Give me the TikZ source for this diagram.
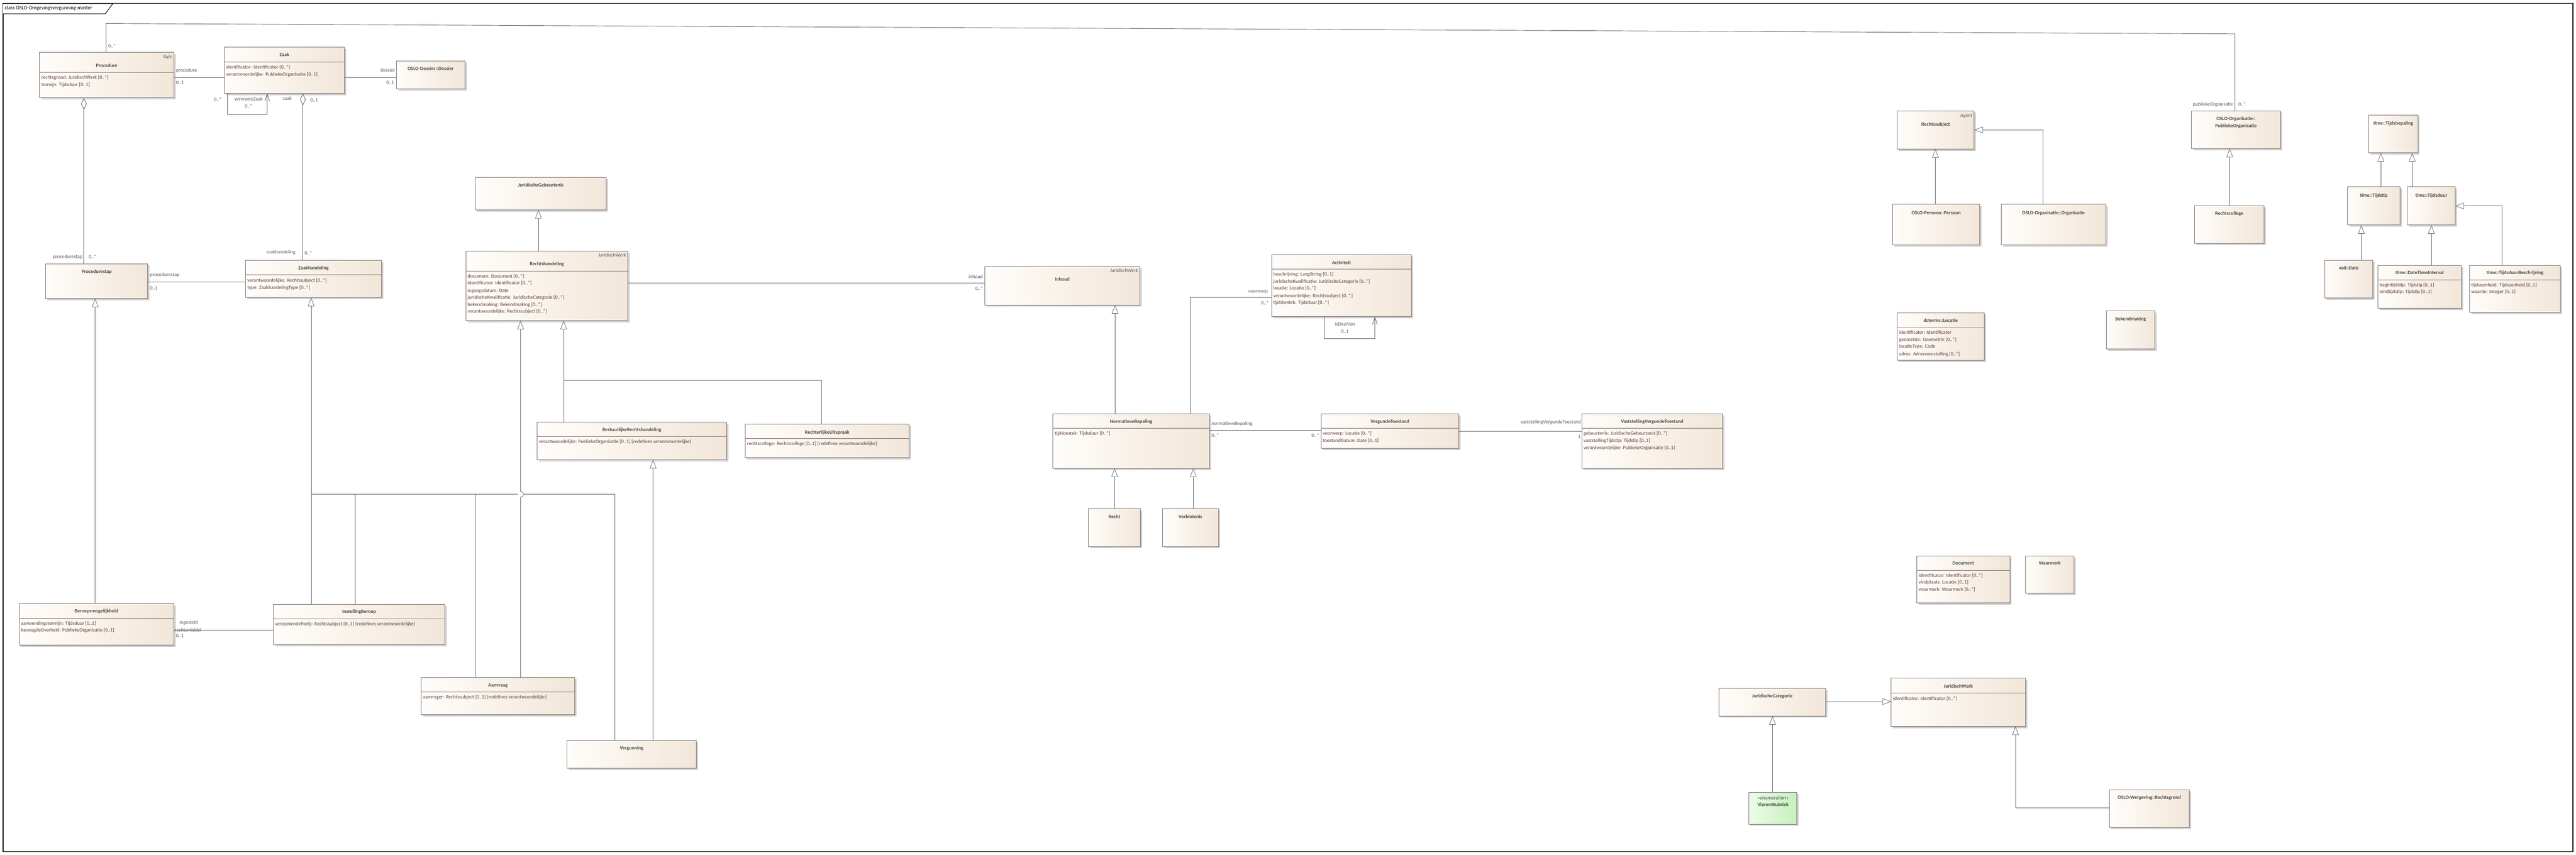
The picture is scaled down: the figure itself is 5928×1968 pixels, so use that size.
\documentclass[tikz,border=0pt]{standalone}
\usepackage{fontspec}
\setmainfont{Carlito}
\usetikzlibrary{arrows.meta,calc}
\definecolor{boxl}{RGB}{255,253,250}
\definecolor{boxr}{RGB}{242,230,217}
\definecolor{boxborder}{RGB}{125,115,115}
\definecolor{shadowc}{RGB}{208,206,206}
\definecolor{namec}{RGB}{72,72,72}
\definecolor{attrc}{RGB}{92,58,58}
\definecolor{lblc}{RGB}{88,88,88}
\definecolor{linec}{RGB}{95,100,115}
\definecolor{enuml}{RGB}{236,252,232}
\definecolor{enumr}{RGB}{198,240,188}
\newcommand\fname{\fontsize{11.5}{13}\selectfont\bfseries}
\newcommand\fattr{\fontsize{11.5}{13}\selectfont}
\newcommand\flbl{\fontsize{11.5}{13}\selectfont}
\tikzset{
  clsbox/.style={draw=boxborder,line width=1.1pt,left color=boxl,right color=boxr,inner sep=0pt,outer sep=0pt},
  enumbox/.style={left color=enuml,right color=enumr},
  clsname/.style={font=\fname,text=namec,inner sep=0pt,anchor=mid},
  ster/.style={font={\fattr\itshape},text=lblc,inner sep=0pt,anchor=mid east},
  attr/.style={font=\fattr,text=attrc,inner sep=0pt,anchor=mid west},
  lbl/.style={font=\flbl,text=lblc,inner sep=0pt},
  assoc/.style={draw=linec,line width=1.1pt},
  genline/.style={draw=linec,line width=0.9pt},
  gen/.style={genline,-{Triangle[length=20pt,width=15pt,fill=white]}},
  nav/.style={assoc,-{Straight Barb[length=16pt,width=11pt]}},
  agg/.style={assoc,{Diamond[length=28pt,width=13pt,fill=white]}-},
}
% class box: [style] name x1 y1 x2 y2
\newcommand\umlcls[6][]{%
  \fill[shadowc] ({#3+4},{#4+4}) rectangle ({#5+4},{#6+4});
  \node[clsbox,#1,minimum width={(#5-#3)*1pt},minimum height={(#6-#4)*1pt}] (#2) at ({(#3+#5)/2},{(#4+#6)/2}) {};}
\newcommand\ctitle[3]{\node[clsname] (#1-title) at (#1.north |- 0,#2) {#3};}
\newcommand\ctitleb[3]{\node[clsname] (#1-titleb) at (#1.north |- 0,#2) {#3};}
\newcommand\cdiv[2]{\draw[boxborder,line width=1.1pt] (#1.west |- 0,#2) -- (#1.east |- 0,#2);}
\newcommand\cattr[4]{\node[attr] (#1-a#2) at ($(#1.west |- 0,#3)+(4,0)$) {#4};}
\newcommand\cster[3]{\node[ster] (#1-st) at ($(#1.east |- 0,#2)+(-4,0)$) {#3};}
\begin{document}
\begin{tikzpicture}[x=1pt,y=-1pt]
\useasboundingbox (0,0) rectangle (5928,1968);
\fill[white] (0,0) rectangle (5928,1968);
% frame
\draw[black,line width=1.6pt] (7,8) rectangle (5921,1960);
\draw[black,line width=1.2pt,fill=white] (7,8) -- (260,8) -- (242,32) -- (7,32);
\node[font=\fontsize{12}{14}\selectfont,inner sep=0pt,anchor=mid west] (frametitle) at (11,20) {class OSLO-Omgevingsvergunning-master};

% ---------- classes ----------
\umlcls{Procedure}{91}{120}{400}{225}
\cster{Procedure}{132}{Rule}
\ctitle{Procedure}{152}{Procedure}
\cdiv{Procedure}{166}
\cattr{Procedure}{1}{180}{rechtsgrond: JuridischWerk [0..*]}
\cattr{Procedure}{2}{196}{termijn: Tijdsduur [0..1]}

\umlcls{Zaak}{516}{109}{793}{215}
\ctitle{Zaak}{128}{Zaak}
\cdiv{Zaak}{143}
\cattr{Zaak}{1}{156}{identificator: Identificator [0..*]}
\cattr{Zaak}{2}{172}{verantwoordelijke: PubliekeOrganisatie [0..1]}

\umlcls{Dossier}{912}{140}{1070}{205}
\ctitle{Dossier}{159}{OSLO-Dossier::Dossier}

\umlcls{JurGeb}{1094}{408}{1395}{483}
\node[clsname,font={\fname\itshape}] (JurGeb-title) at (JurGeb.north |- 0,427) {JuridischeGebeurtenis};

\umlcls{Rechtshandeling}{1072}{578}{1445}{738}
\cster{Rechtshandeling}{589}{JuridischWerk}
\ctitle{Rechtshandeling}{609}{Rechtshandeling}
\cdiv{Rechtshandeling}{624}
\cattr{Rechtshandeling}{1}{637}{document: Document [0..*]}
\cattr{Rechtshandeling}{2}{653}{identificator: Identificator [0..*]}
\cattr{Rechtshandeling}{3}{670}{ingangsdatum: Date}
\cattr{Rechtshandeling}{4}{686}{juridischeKwalificatie: JuridischeCategorie [0..*]}
\cattr{Rechtshandeling}{5}{702}{bekendmaking: Bekendmaking [0..*]}
\cattr{Rechtshandeling}{6}{718}{verantwoordelijke: Rechtssubject [0..*]}

\umlcls{Procedurestap}{105}{607}{340}{687}
\ctitle{Procedurestap}{627}{Procedurestap}

\umlcls{Zaakhandeling}{565}{599}{878}{685}
\ctitle{Zaakhandeling}{618}{Zaakhandeling}
\cdiv{Zaakhandeling}{633}
\cattr{Zaakhandeling}{1}{647}{verantwoordelijke: Rechtssubject [0..*]}
\cattr{Zaakhandeling}{2}{663}{type: ZaakhandelingType [0..*]}

\umlcls{Inhoud}{2266}{613}{2623}{702}
\cster{Inhoud}{624}{JuridischWerk}
\ctitle{Inhoud}{644}{Inhoud}

\umlcls{Activiteit}{2926}{586}{3248}{729}
\ctitle{Activiteit}{606}{Activiteit}
\cdiv{Activiteit}{620}
\cattr{Activiteit}{1}{633}{beschrijving: LangString [0..1]}
\cattr{Activiteit}{2}{649}{juridischeKwalificatie: JuridischeCategorie [0..*]}
\cattr{Activiteit}{3}{665}{locatie: Locatie [0..*]}
\cattr{Activiteit}{4}{682}{verantwoordelijke: Rechtssubject [0..*]}
\cattr{Activiteit}{5}{698}{tijdsbestek: Tijdsduur [0..*]}

\umlcls{NormBep}{2423}{953}{2783}{1078}
\ctitle{NormBep}{972}{NormatieveBepaling}
\cdiv{NormBep}{986}
\cattr{NormBep}{1}{999}{tijdsbestek: Tijdsduur [0..*]}

\umlcls{VergTst}{3040}{953}{3357}{1032}
\ctitle{VergTst}{972}{VergundeToestand}
\cdiv{VergTst}{986}
\cattr{VergTst}{1}{999}{voorwerp: Locatie [0..*]}
\cattr{VergTst}{2}{1016}{toestandDatum: Date [0..1]}

\umlcls{VaststVT}{3640}{953}{3964}{1078}
\ctitle{VaststVT}{972}{VaststellingVergundeToestand}
\cdiv{VaststVT}{986}
\cattr{VaststVT}{1}{999}{gebeurtenis: JuridischeGebeurtenis [0..*]}
\cattr{VaststVT}{2}{1016}{vaststellingTijdstip: Tijdstip [0..1]}
\cattr{VaststVT}{3}{1032}{verantwoordelijke: PubliekeOrganisatie [0..1]}

\umlcls{BRH}{1236}{972}{1672}{1058}
\ctitle{BRH}{991}{BestuurlijkeRechtshandeling}
\cdiv{BRH}{1005}
\cattr{BRH}{1}{1018}{verantwoordelijke: PubliekeOrganisatie [0..1] \{redefines verantwoordelijke\}}

\umlcls{RU}{1715}{976}{2092}{1053}
\ctitle{RU}{996}{RechterlijkeUitspraak}
\cdiv{RU}{1010}
\cattr{RU}{1}{1023}{rechtscollege: Rechtscollege [0..1] \{redefines verantwoordelijke\}}

\umlcls{Beroep}{44}{1389}{400}{1485}
\ctitle{Beroep}{1408}{Beroepsmogelijkheid}
\cdiv{Beroep}{1423}
\cattr{Beroep}{1}{1436}{aanwendingstermijn: Tijdsduur [0..1]}
\cattr{Beroep}{2}{1452}{bevoegdeOverheid: PubliekeOrganisatie [0..1]}

\umlcls{InstBeroep}{629}{1391}{1024}{1484}
\ctitle{InstBeroep}{1409}{InstellingBeroep}
\cdiv{InstBeroep}{1424}
\cattr{InstBeroep}{1}{1438}{verzoekendePartij: Rechtssubject [0..1] \{redefines verantwoordelijke\}}

\umlcls{Aanvraag}{969}{1559}{1323}{1645}
\ctitle{Aanvraag}{1578}{Aanvraag}
\cdiv{Aanvraag}{1593}
\cattr{Aanvraag}{1}{1606}{aanvrager: Rechtssubject [0..1] \{redefines verantwoordelijke\}}

\umlcls{Vergunning}{1305}{1704}{1602}{1768}
\ctitle{Vergunning}{1723}{Vergunning}

\umlcls{Recht}{2505}{1171}{2624}{1258}
\ctitle{Recht}{1191}{Recht}
\umlcls{Verbintenis}{2675}{1171}{2804}{1258}
\ctitle{Verbintenis}{1191}{Verbintenis}

\umlcls{Rechtssubject}{4366}{255}{4543}{343}
\cster{Rechtssubject}{267}{Agent}
\ctitle{Rechtssubject}{287}{Rechtssubject}
\umlcls{Persoon}{4355}{470}{4556}{564}
\ctitle{Persoon}{491}{OSLO-Persoon::Persoon}
\umlcls{Organisatie}{4605}{470}{4846}{564}
\ctitle{Organisatie}{491}{OSLO-Organisatie::Organisatie}
\umlcls{PO}{5043}{255}{5248}{342}
\ctitle{PO}{275}{OSLO-Organisatie::}
\ctitleb{PO}{291}{PubliekeOrganisatie}
\umlcls{Rechtscollege}{5050}{474}{5210}{560}
\ctitle{Rechtscollege}{493}{Rechtscollege}

\umlcls{Tijdsbepaling}{5451}{265}{5564}{352}
\ctitle{Tijdsbepaling}{285}{time::Tijdsbepaling}
\umlcls{Tijdstip}{5402}{430}{5523}{518}
\ctitle{Tijdstip}{451}{time::Tijdstip}
\umlcls{Tijdsduur}{5540}{430}{5650}{518}
\ctitle{Tijdsduur}{451}{time::Tijdsduur}
\umlcls{XsdDate}{5350}{599}{5460}{686}
\ctitle{XsdDate}{618}{xsd::Date}
\umlcls{DTI}{5472}{611}{5664}{710}
\ctitle{DTI}{629}{time::DateTimeInterval}
\cdiv{DTI}{644}
\cattr{DTI}{1}{657}{begintijdstip: Tijdstip [0..1]}
\cattr{DTI}{2}{673}{eindtijdstip: Tijdstip [0..1]}
\umlcls{TDB}{5683}{611}{5892}{719}
\ctitle{TDB}{629}{time::TijdsduurBeschrijving}
\cdiv{TDB}{644}
\cattr{TDB}{1}{657}{tijdseenheid: Tijdseenheid [0..1]}
\cattr{TDB}{2}{673}{waarde: Integer [0..1]}

\umlcls{Locatie}{4366}{720}{4566}{829}
\ctitle{Locatie}{739}{dcterms::Locatie}
\cdiv{Locatie}{754}
\cattr{Locatie}{1}{767}{identificator: Identificator}
\cattr{Locatie}{2}{783}{geometrie: Geometrie [0..*]}
\cattr{Locatie}{3}{799}{locatieType: Code}
\cattr{Locatie}{4}{816}{adres: Adresvoorstelling [0..*]}

\umlcls{Bekendmaking}{4847}{716}{4959}{803}
\ctitle{Bekendmaking}{736}{Bekendmaking}

\umlcls{Document}{4411}{1280}{4625}{1388}
\ctitle{Document}{1298}{Document}
\cdiv{Document}{1313}
\cattr{Document}{1}{1326}{identificator: Identificator [0..*]}
\cattr{Document}{2}{1342}{vindplaats: Locatie [0..1]}
\cattr{Document}{3}{1358}{waarmerk: Waarmerk [0..*]}

\umlcls{Waarmerk}{4661}{1280}{4773}{1365}
\ctitle{Waarmerk}{1298}{Waarmerk}

\umlcls{JurCat}{3956}{1585}{4201}{1648}
\ctitle{JurCat}{1603}{JuridischeCategorie}

\umlcls{JurWerk}{4352}{1561}{4661}{1672}
\ctitle{JurWerk}{1581}{JuridischWerk}
\cdiv{JurWerk}{1595}
\cattr{JurWerk}{1}{1609}{identificator: Identificator [0..*]}

\umlcls[enumbox]{Vlarem}{4025}{1824}{4135}{1897}
\node[clsname,font=\flbl] (Vlarem-st) at (Vlarem.north |- 0,1838) {«enumeration»};
\ctitle{Vlarem}{1854}{VlaremRubriek}

\umlcls{Rechtsgrond}{4854}{1818}{5038}{1905}
\ctitle{Rechtsgrond}{1837}{OSLO-Wetgeving::Rechtsgrond}

% ---------- connectors ----------
% Procedure -- PubliekeOrganisatie
\draw[assoc] (Procedure.north -| 244,0) -- (244,54) -- (5143,78) -- (PO.north -| 5143,0);
\node[lbl,anchor=mid west] (l-a1) at (249,107) {0..*};
\node[lbl,anchor=mid east] (l-a2) at (5139,241) {publiekeOrganisatie};
\node[lbl,anchor=mid west] (l-a3) at (5151,241) {0..*};
% Procedure -- Zaak
\draw[assoc] (Procedure.east |- 0,178) -- (Zaak.west |- 0,178);
\node[lbl,anchor=mid west] (l-b1) at (405,163) {procedure};
\node[lbl,anchor=mid west] (l-b2) at (405,192) {0..1};
% Zaak -- Dossier
\draw[assoc] (Zaak.east |- 0,178) -- (Dossier.west |- 0,178);
\node[lbl,anchor=mid east] (l-c1) at (909,163) {dossier};
\node[lbl,anchor=mid east] (l-c2) at (907,192) {0..1};
% Zaak self
\draw[nav] (Zaak.south -| 523,0) -- (523,264) -- (615,264) -- (Zaak.south -| 615,0);
\node[lbl,anchor=mid east] (l-d1) at (510,230) {0..*};
\node[lbl,anchor=mid] (l-d2) at (572,229) {verwanteZaak};
\node[lbl,anchor=mid] (l-d3) at (572,246) {0..*};
% Zaak <>-- Zaakhandeling
\draw[agg] (Zaak.south -| 697,0) -- (Zaakhandeling.north -| 697,0);
\node[lbl,anchor=mid] (l-e1) at (661,228) {zaak};
\node[lbl,anchor=mid west] (l-e2) at (714,232) {0..1};
\node[lbl,anchor=mid east] (l-e3) at (680,582) {zaakhandeling};
\node[lbl,anchor=mid west] (l-e4) at (701,584) {0..*};
% Procedure <>-- Procedurestap
\draw[agg] (Procedure.south -| 193,0) -- (Procedurestap.north -| 193,0);
\node[lbl,anchor=mid east] (l-f1) at (190,592) {procedurestap};
\node[lbl,anchor=mid west] (l-f2) at (204,592) {0..*};
% Procedurestap -- Zaakhandeling
\draw[assoc] (Procedurestap.east |- 0,649) -- (Zaakhandeling.west |- 0,649);
\node[lbl,anchor=mid west] (l-g1) at (345,634) {procedurestap};
\node[lbl,anchor=mid west] (l-g2) at (345,664) {0..1};
% Rechtshandeling -> JuridischeGebeurtenis
\draw[gen] (Rechtshandeling.north -| 1239,0) -- (JurGeb.south -| 1239,0);
% Rechtshandeling -- Inhoud
\draw[assoc] (Rechtshandeling.east |- 0,651) -- (Inhoud.west |- 0,651);
\node[lbl,anchor=mid east] (l-i1) at (2262,638) {inhoud};
\node[lbl,anchor=mid east] (l-i2) at (2262,666) {0..*};
% NormatieveBepaling -> Inhoud
\draw[gen] (NormBep.north -| 2566,0) -- (Inhoud.south -| 2566,0);
% NormatieveBepaling -- Activiteit
\draw[assoc] (NormBep.north -| 2739,0) -- (2739,685) -- (Activiteit.west |- 0,685);
\node[lbl,anchor=mid east] (l-k1) at (2918,672) {voorwerp};
\node[lbl,anchor=mid east] (l-k2) at (2920,699) {0..*};
% Activiteit self
\draw[nav] (Activiteit.south -| 3048,0) -- (3048,780) -- (3164,780) -- (Activiteit.south -| 3164,0);
\node[lbl,anchor=mid] (l-l1) at (3095,748) {isDeelVan};
\node[lbl,anchor=mid] (l-l2) at (3095,764) {0..1};
% NormatieveBepaling -- VergundeToestand
\draw[assoc] (NormBep.east |- 0,990) -- (VergTst.west |- 0,990);
\node[lbl,anchor=mid west] (l-m1) at (2788,976) {normatieveBepaling};
\node[lbl,anchor=mid west] (l-m2) at (2788,1004) {0..*};
\node[lbl,anchor=mid east] (l-m3) at (3036,1004) {0..*};
% VergundeToestand -- VaststellingVergundeToestand
\draw[assoc] (VergTst.east |- 0,993) -- (VaststVT.west |- 0,993);
\node[lbl,anchor=mid east] (l-n1) at (3638,973) {vaststellingVergundeToestand};
\node[lbl,anchor=mid east] (l-n2) at (3637,1007) {1};
% Recht, Verbintenis -> NormatieveBepaling
\draw[gen] (Recht.north -| 2565,0) -- (NormBep.south -| 2565,0);
\draw[gen] (Verbintenis.north -| 2746,0) -- (NormBep.south -| 2746,0);
% BRH, RU -> Rechtshandeling
\coordinate (rhJ) at (1297,875);
\draw[gen] (BRH.north -| 1297,0) -- (Rechtshandeling.south -| 1297,0);
\draw[genline] (RU.north -| 1890,0) -- (1890,875) -- (rhJ);
% Aanvraag -> Rechtshandeling (with hop)
\draw[gen] (Aanvraag.north -| 1198,0) -- (1198,1144) .. controls (1207,1144) and (1207,1132) .. (1198,1132) -- (Rechtshandeling.south -| 1198,0);
% Vergunning -> BRH
\draw[gen] (Vergunning.north -| 1503,0) -- (BRH.south -| 1503,0);
% Zaakhandeling subtypes
\coordinate (zhL) at (716,1138);
\coordinate (zhR) at (1415,1138);
\draw[gen] (InstBeroep.north -| 716,0) -- (Zaakhandeling.south -| 716,0);
\draw[genline] (zhL) -- (1192,1138);
\draw[genline] (1204,1138) -- (zhR);
\draw[genline] (zhL -| 817,0) -- (InstBeroep.north -| 817,0);
\draw[genline] (zhL -| 1094,0) -- (Aanvraag.north -| 1094,0);
\draw[genline] (zhR) -- (Vergunning.north -| 1415,0);
% Beroepsmogelijkheid -> Procedurestap
\draw[gen] (Beroep.north -| 219,0) -- (Procedurestap.south -| 219,0);
% Beroepsmogelijkheid -- InstellingBeroep
\draw[assoc] (Beroep.east |- 0,1450) -- (InstBeroep.west |- 0,1450);
\node[lbl,anchor=mid west] (l-t1) at (413,1434) {ingesteld};
\node[lbl,anchor=mid west] (l-t2) at (402,1452) {rechtsmiddel};
\node[lbl,anchor=mid west] (l-t3) at (405,1465) {0..1};
% right side generalizations
\draw[gen] (Persoon.north -| 4454,0) -- (Rechtssubject.south -| 4454,0);
\draw[gen] (Organisatie.north -| 4701,0) -- (4701,299) -- (Rechtssubject.east |- 0,299);
\draw[gen] (Rechtscollege.north -| 5131,0) -- (PO.south -| 5131,0);
\draw[gen] (Tijdstip.north -| 5479,0) -- (Tijdsbepaling.south -| 5479,0);
\draw[gen] (Tijdsduur.north -| 5551,0) -- (Tijdsbepaling.south -| 5551,0);
\draw[gen] (XsdDate.north -| 5434,0) -- (Tijdstip.south -| 5434,0);
\draw[gen] (DTI.north -| 5595,0) -- (Tijdsduur.south -| 5595,0);
\draw[gen] (TDB.north -| 5758,0) -- (5758,474) -- (Tijdsduur.east |- 0,474);
\draw[gen] (JurCat.east |- 0,1615) -- (JurWerk.west |- 0,1615);
\draw[gen] (Vlarem.north -| 4079,0) -- (JurCat.south -| 4079,0);
\draw[gen] (Rechtsgrond.west |- 0,1860) -- (4638,1860) -- (JurWerk.south -| 4638,0);
\end{tikzpicture}
\end{document}
